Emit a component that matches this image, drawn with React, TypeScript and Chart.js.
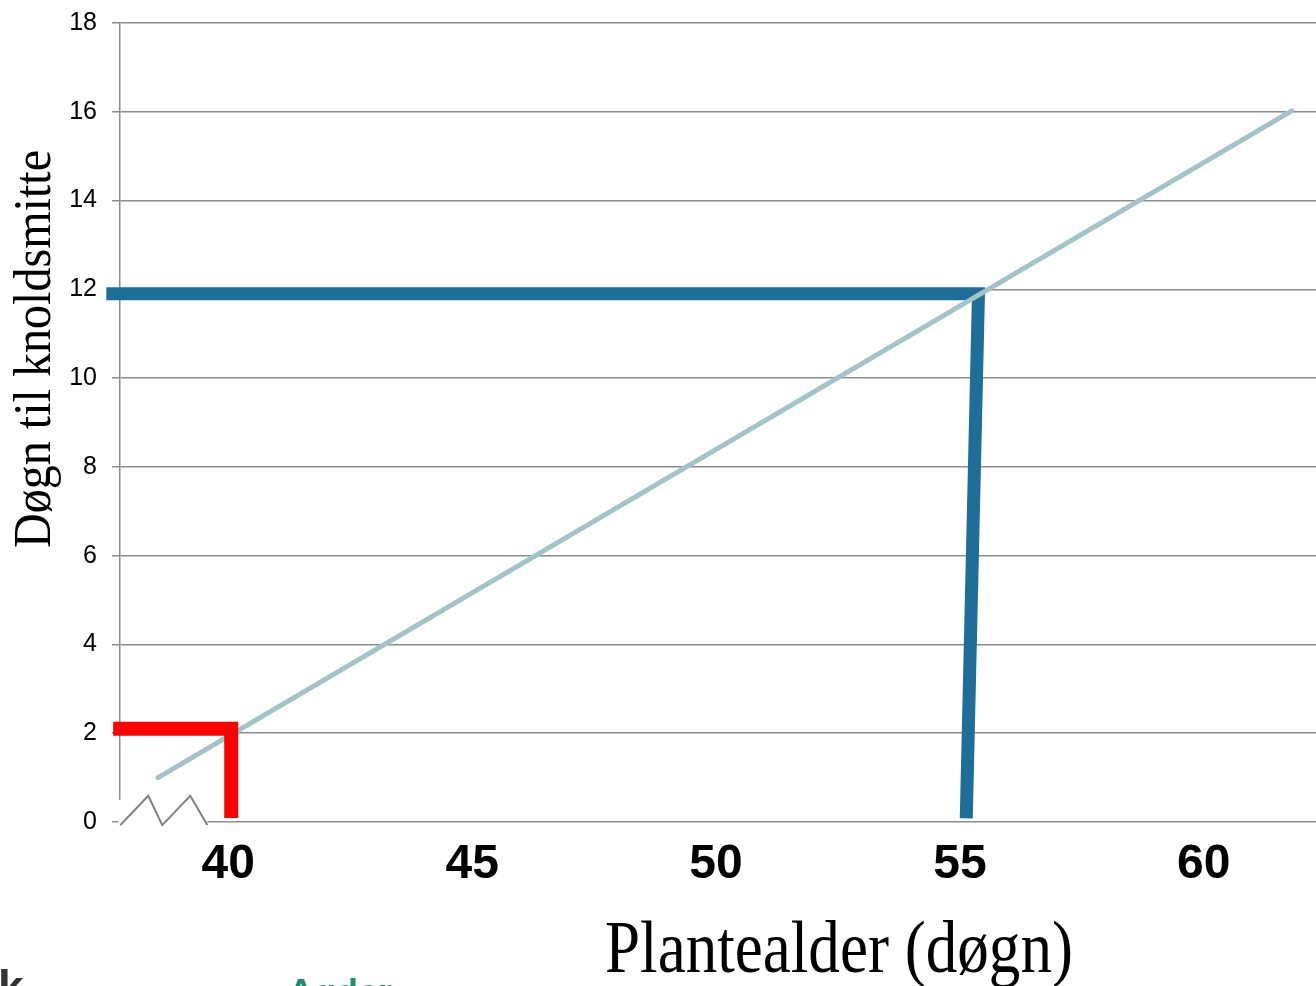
import React, { useEffect, useRef } from "react";
import { Chart, registerables } from "chart.js";

Chart.register(...registerables);

// ---- data ----
const xTickValues = [40, 45, 50, 55, 60];
const yTickValues = [0, 2, 4, 6, 8, 10, 12, 14, 16, 18];

const trendX = [38.56, 61.8];
const trendY = [1.0, 16.02];

const blueX = [37.5, 55.38, 55.13];
const blueY = [11.9, 11.9, 0.08];

const redX = [37.64, 40.06, 40.06];
const redY = [2.1, 2.1, 0.09];

const breakX = [37.785, 38.36, 38.646, 39.22, 39.57];
const breakY = [-0.07, 0.59, -0.07, 0.59, -0.07];

const yTitle = "Døgn til knoldsmitte";
const xTitle = "Plantealder (døgn)";

const toPts = (xs: number[], ys: number[]) => xs.map((x, i) => ({ x, y: ys[i] }));

const breakPatch = {
  id: "breakPatch",
  beforeDatasetsDraw(chart: any) {
    const { ctx, scales } = chart;
    const xs = scales.x;
    const ys = scales.y;
    ctx.save();
    ctx.fillStyle = "#ffffff";
    const left = chart.chartArea.left - 1.5;
    const right = xs.getPixelForValue(breakX[breakX.length - 1]);
    const top = ys.getPixelForValue(0.5);
    const bottom = ys.getPixelForValue(0) + 2;
    ctx.fillRect(left, top, right - left, bottom - top);
    ctx.restore();
  },
};

const titles = {
  id: "titles",
  afterDraw(chart: any) {
    const { ctx } = chart;
    ctx.save();
    ctx.fillStyle = "#000000";
    ctx.textAlign = "center";
    ctx.textBaseline = "alphabetic";
    // y title
    ctx.save();
    ctx.translate(50, 349);
    ctx.rotate(-Math.PI / 2);
    ctx.font = '53px "Liberation Serif", "Times New Roman", serif';
    ctx.fillText(yTitle, 0, 0, 398);
    ctx.restore();
    // x title
    ctx.font = '74px "Liberation Serif", "Times New Roman", serif';
    ctx.fillText(xTitle, 839, 972, 468);
    ctx.restore();
  },
};

export default function App() {
  const ref = useRef<HTMLCanvasElement | null>(null);

  useEffect(() => {
    if (!ref.current) return;
    const chart = new Chart(ref.current, {
      type: "line",
      data: {
        datasets: [
          {
            label: "red",
            data: toPts(redX, redY),
            borderColor: "#FF0000",
            borderWidth: 14,
            borderJoinStyle: "miter",
            borderCapStyle: "butt",
            pointRadius: 0,
            fill: false,
            clip: false as any,
            tension: 0,
          },
          {
            label: "trend",
            data: toPts(trendX, trendY),
            borderColor: "#A2C4C9",
            borderWidth: 5,
            borderCapStyle: "round",
            pointRadius: 0,
            fill: false,
            clip: false as any,
            tension: 0,
          },
          {
            label: "blue",
            data: toPts(blueX, blueY),
            borderColor: "#1F6D99",
            borderWidth: 13,
            borderJoinStyle: "miter",
            borderCapStyle: "butt",
            pointRadius: 0,
            fill: false,
            clip: false as any,
            tension: 0,
          },
          {
            label: "break",
            data: toPts(breakX, breakY),
            borderColor: "#808080",
            borderWidth: 2,
            pointRadius: 0,
            fill: false,
            clip: false as any,
            tension: 0,
          },
        ],
      },
      options: {
        animation: false,
        responsive: false,
        maintainAspectRatio: false,
        layout: { padding: { top: 23, left: 0, right: 0, bottom: 0 } },
        plugins: {
          legend: { display: false },
          tooltip: { enabled: false },
          title: { display: false },
        },
        scales: {
          x: {
            type: "linear",
            min: 37.78,
            max: 62.3,
            afterBuildTicks: (s: any) => {
              s.ticks = xTickValues.map((v) => ({ value: v }));
            },
            afterFit: (s: any) => {
              s.height = 164;
              s.paddingLeft = 0;
              s.paddingRight = 0;
            },
            grid: { display: false },
            border: { display: false },
            ticks: {
              color: "#000000",
              padding: 6,
              font: { family: '"Liberation Sans", Arial, sans-serif', size: 48, weight: "bold", lineHeight: 1.2 },
            },
          },
          y: {
            type: "linear",
            min: 0,
            max: 18,
            afterBuildTicks: (s: any) => {
              s.ticks = yTickValues.map((v) => ({ value: v }));
            },
            afterFit: (s: any) => {
              s.width = 120;
              s.paddingTop = 0;
              s.paddingBottom = 0;
            },
            grid: { color: "#8C8C8C", lineWidth: 1.5, tickLength: 8, drawTicks: true },
            border: { display: true, color: "#8C8C8C", width: 1.5 },
            ticks: {
              color: "#000000",
              padding: 15,
              font: { family: '"Liberation Sans", Arial, sans-serif', size: 25 },
            },
          },
        },
      },
      plugins: [breakPatch, titles],
    });
    return () => chart.destroy();
  }, []);

  return (
    <div
      style={{
        position: "fixed",
        left: 0,
        top: 0,
        width: 1316,
        height: 986,
        overflow: "hidden",
        background: "#ffffff",
      }}
    >
      <canvas ref={ref} width={1316} height={986} style={{ display: "block", width: 1316, height: 986 }} />
      <div
        style={{
          position: "absolute",
          left: -2,
          top: 964,
          font: 'bold 46px "Liberation Sans", Arial, sans-serif',
          color: "#333333",
          lineHeight: "46px",
        }}
      >
        k
      </div>
      <div
        style={{
          position: "absolute",
          left: 288,
          top: 975,
          font: 'bold 36px "Liberation Sans", Arial, sans-serif',
          color: "#1A9070",
          lineHeight: "36px",
        }}
      >
        Agder
      </div>
    </div>
  );
}
